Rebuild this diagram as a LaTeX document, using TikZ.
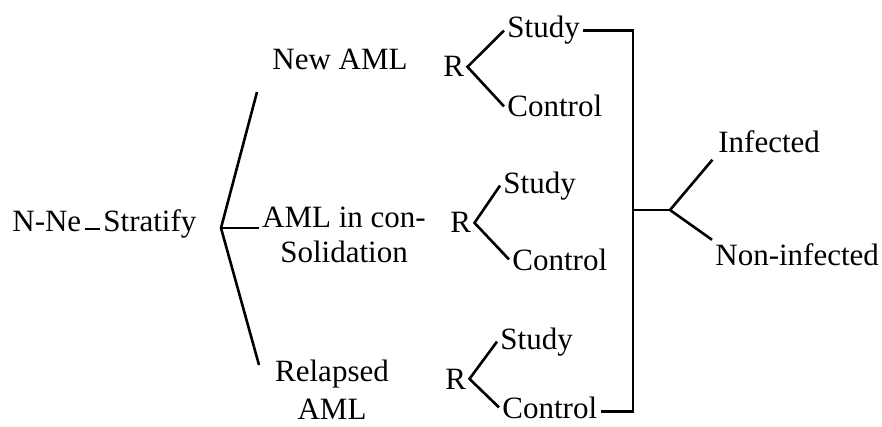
\documentclass[tikz,border=0pt]{standalone}
\usepackage{fontspec}
\setmainfont{Liberation Serif}
\begin{document}
\begin{tikzpicture}[x=0.5pt,y=-0.5pt,
    lbl/.style={inner sep=1.5pt,anchor=base west,font=\fontsize{15.5}{20}\selectfont},
    blk/.style={lbl,anchor=north,align=center}]
  \useasboundingbox (0,0) rectangle (882,427);
  \draw
    (9,231) node[lbl] (nne){N-Ne}
    (100,231) node[lbl] (strat){Stratify}
    (269,70) node[lbl] (new){New AML}
    (344,204) node[blk] (cons){AML in con-\\[-2.5pt]Solidation}
    (332,357) node[blk] (rel){Relapsed\\[-1pt]AML}
    (440,77) node[lbl] (r1){R}
    (504,38) node[lbl] (s1){Study}
    (504,117) node[lbl] (c1){Control}
    (447,233) node[lbl] (r2){R}
    (500,193) node[lbl] (s2){Study}
    (509,270) node[lbl] (c2){Control}
    (442,389) node[lbl] (r3){R}
    (497,349) node[lbl] (s3){Study}
    (499,418) node[lbl] (c3){Control}
    (715,153) node[lbl] (inf){Infected}
    (712,265) node[lbl] (non){Non-infected};
  \coordinate (brk) at (221,228);
  \coordinate (btop) at (257,92);
  \coordinate (bbot) at (259,365);
  \coordinate (col) at (633,0);
  \coordinate (jn) at (670,210);
  \coordinate (c3e) at ([yshift=-2pt]c3.east);
  \begin{scope}[line width=1.3pt]
    \draw ([yshift=1pt]nne.base east) -- ([yshift=1pt]strat.base west);
    \draw (btop) -- (brk) -- (bbot);
    \draw (brk) -- (brk -| cons.west);
    \draw (s1.west) -- (r1.east) -- (c1.west);
    \draw (s2.west) -- (r2.east) -- (c2.west);
    \draw (s3.west) -- (r3.east) -- (c3.west);
    \draw (s1.east) -| (col |- c3e) -- (c3e);
    \draw (jn -| col) -- (jn);
    \draw[shorten >=2pt] (jn) -- (inf.south west);
    \draw (jn) -- (non.north west);
  \end{scope}
\end{tikzpicture}
\end{document}
